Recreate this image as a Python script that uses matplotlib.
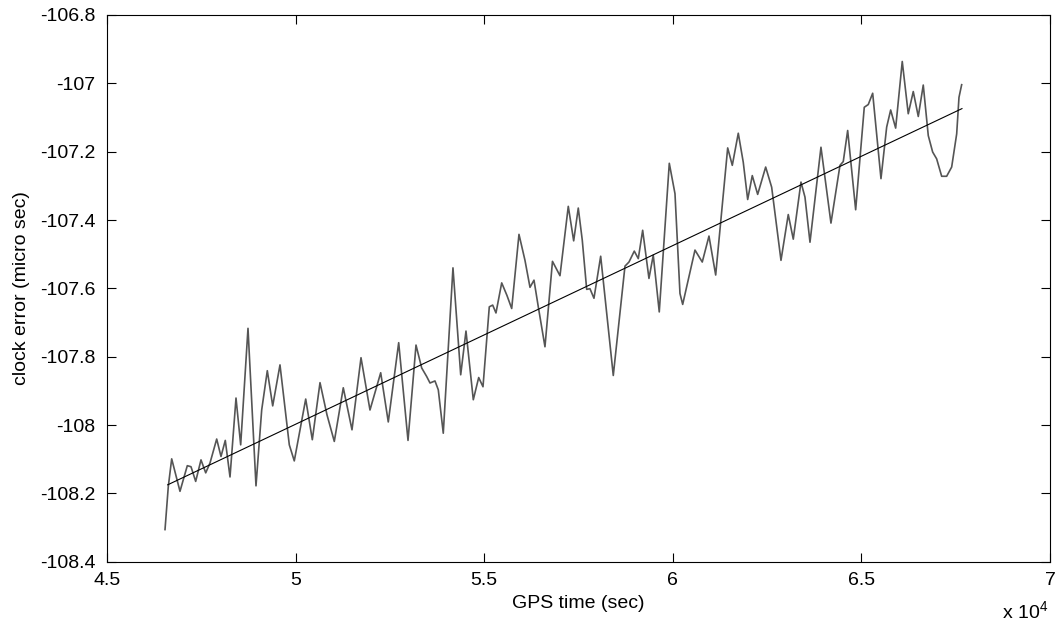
import matplotlib
matplotlib.use("Agg")
import matplotlib.pyplot as plt
from matplotlib.ticker import FuncFormatter, FixedLocator

plt.rcParams['font.family'] = ['Liberation Sans', 'DejaVu Sans']
plt.rcParams['axes.unicode_minus'] = False
plt.rcParams['mathtext.fontset'] = 'custom'
plt.rcParams['mathtext.rm'] = 'Liberation Sans'

# GPS time (sec) and measured clock error (micro sec)
gps_time = [46538, 46625, 46715, 46935, 47129, 47227, 47351, 47492, 47617, 47731,
            47908, 48022, 48136, 48261, 48420, 48544, 48738, 48950, 49101, 49250,
            49393, 49586, 49833, 49965, 50268, 50443, 50647, 50832, 51026, 51264,
            51495, 51734, 51972, 52256, 52457, 52733, 52980, 53192, 53343, 53475,
            53563, 53695, 53783, 53915, 54172, 54377, 54517, 54711, 54854, 54968,
            55135, 55225, 55312, 55464, 55604, 55729, 55922, 56081, 56214, 56320,
            56434, 56611, 56810, 57009, 57229, 57372, 57494, 57600, 57717, 57804,
            57910, 58088, 58422, 58732, 58838, 58979, 59085, 59201, 59368, 59482,
            59641, 59907, 60058, 60190, 60262, 60588, 60781, 60959, 61137, 61383,
            61455, 61577, 61736, 61868, 61985, 62107, 62250, 62462, 62621, 62868,
            63061, 63194, 63398, 63504, 63637, 63928, 64193, 64432, 64519, 64636,
            64848, 65076, 65182, 65299, 65519, 65670, 65776, 65908, 66083, 66242,
            66375, 66508, 66640, 66773, 66889, 66995, 67128, 67260, 67393, 67526,
            67587, 67658]
clock_error = [-108.306, -108.180, -108.099, -108.194, -108.119, -108.122, -108.165, -108.102, -108.140, -108.111,
               -108.041, -108.092, -108.045, -108.152, -107.921, -108.058, -107.717, -108.178, -107.956, -107.841,
               -107.944, -107.824, -108.058, -108.105, -107.924, -108.043, -107.876, -107.970, -108.048, -107.891,
               -108.014, -107.803, -107.956, -107.847, -107.991, -107.759, -108.045, -107.766, -107.833, -107.858,
               -107.877, -107.871, -107.897, -108.024, -107.540, -107.853, -107.725, -107.926, -107.861, -107.888,
               -107.654, -107.649, -107.672, -107.584, -107.621, -107.659, -107.442, -107.518, -107.597, -107.576,
               -107.654, -107.771, -107.521, -107.563, -107.360, -107.461, -107.365, -107.459, -107.603, -107.601,
               -107.629, -107.506, -107.855, -107.535, -107.523, -107.491, -107.513, -107.430, -107.571, -107.503,
               -107.669, -107.234, -107.323, -107.615, -107.647, -107.488, -107.523, -107.447, -107.561, -107.274,
               -107.189, -107.240, -107.146, -107.231, -107.340, -107.270, -107.325, -107.245, -107.304, -107.518,
               -107.384, -107.456, -107.289, -107.333, -107.465, -107.187, -107.409, -107.240, -107.229, -107.138,
               -107.370, -107.070, -107.062, -107.029, -107.279, -107.128, -107.078, -107.131, -106.936, -107.089,
               -107.024, -107.097, -107.005, -107.153, -107.201, -107.221, -107.272, -107.272, -107.245, -107.148,
               -107.041, -107.004]

# linear fit line end points
fit_time = [46609, 67666]
fit_error = [-108.175, -107.074]

x_ticks = [45000, 50000, 55000, 60000, 65000, 70000]
y_ticks = [-108.4, -108.2, -108.0, -107.8, -107.6, -107.4, -107.2, -107.0, -106.8]

FS = 14

fig = plt.figure(figsize=(10.62, 6.32), dpi=100)
ax = fig.add_axes([107 / 1062, 1 - 561.7 / 632, (1050 - 107) / 1062, (561.7 - 15) / 632])

ax.plot(gps_time, clock_error, color='#555555', linewidth=1.2,
        solid_joinstyle='round')
ax.plot(fit_time, fit_error, color='black', linewidth=0.8)

ax.set_xlim(45000, 70000)
ax.set_ylim(-108.4, -106.8)
ax.xaxis.set_major_locator(FixedLocator(x_ticks))
ax.yaxis.set_major_locator(FixedLocator(y_ticks))
ax.xaxis.set_major_formatter(FuncFormatter(lambda v, p: '%g' % (v / 1e4)))
ax.yaxis.set_major_formatter(FuncFormatter(lambda v, p: '%g' % round(v, 1)))

ax.tick_params(direction='in', length=6.5, width=0.8, top=True, right=True,
               labelsize=FS, colors='black')
ax.tick_params(axis='y', pad=8.5)
ax.tick_params(axis='x', pad=7.5)
for s in ax.spines.values():
    s.set_linewidth(0.8)
    s.set_color('black')

ax.set_xlabel('GPS time (sec)', fontsize=FS, labelpad=4)
ax.set_ylabel('clock error (micro sec)', fontsize=FS, labelpad=7)

fig.text(1002 / 1062, 1 - 612 / 632, r'x 10$^{4}$', fontsize=FS, va='center', ha='left')

fig.savefig('out.png', dpi=100, facecolor='white')
